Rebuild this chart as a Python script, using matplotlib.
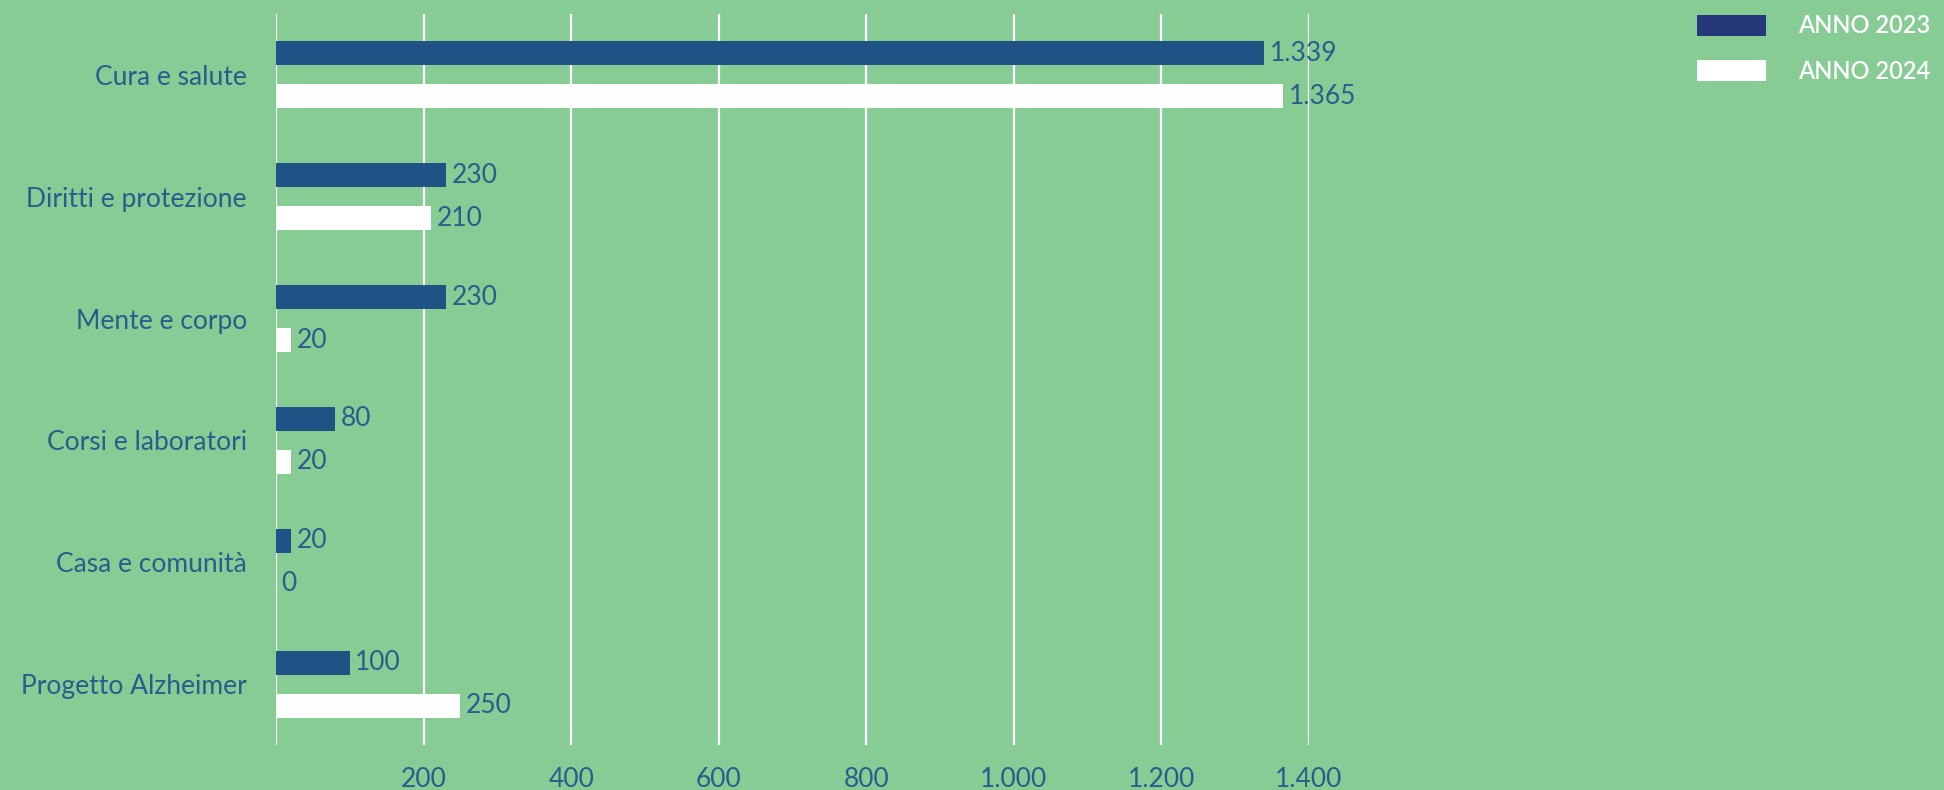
import numpy as np
import matplotlib.pyplot as plt
from matplotlib.patches import Patch

categories = ["Cura e salute", "Diritti e protezione", "Mente e corpo",
              "Corsi e laboratori", "Casa e comunità", "Progetto Alzheimer"]
values_2023 = [1339, 230, 230, 80, 20, 100]
values_2024 = [1365, 210, 20, 20, 0, 250]
series_names = ["ANNO 2023", "ANNO 2024"]
x_ticks = [0, 200, 400, 600, 800, 1000, 1200, 1400]

bg = '#87CB95'
c2023 = '#1F5285'
c2023_legend = '#25397A'
c2024 = '#FFFFFF'
txt = '#2B5C8C'

def fmt_it(v):
   return '{:,}'.format(int(v)).replace(',', '.')

plt.rcParams['font.family'] = ['Lato', 'DejaVu Sans']

fig = plt.figure(figsize=(19.44, 7.9), dpi=100, facecolor=bg)
ax = fig.add_axes([276/1944, 1 - 745/790, (1309 - 276)/1944, (745 - 14)/790])
ax.set_facecolor(bg)

y = np.arange(len(categories))
off = 0.177
h = 0.197
b1 = ax.barh(y - off, values_2023, height=h, color=c2023, zorder=3)
b2 = ax.barh(y + off, values_2024, height=h, color=c2024, zorder=3)

for bars, vals in [(b1, values_2023), (b2, values_2024)]:
   for bar, v in zip(bars, vals):
      ax.annotate(fmt_it(v), (bar.get_width(), bar.get_y() + bar.get_height() / 2),
                  xytext=(4, 0), textcoords='offset points', va='center', ha='left',
                  fontsize=19, color=txt, zorder=4, annotation_clip=False)

ax.set_ylim(len(categories) - 0.5, -0.5)
ax.set_xlim(0, 1400)
ax.set_yticks(y)
ax.set_yticklabels(categories, fontsize=19, color=txt)
ax.set_xticks(x_ticks)
ax.set_xticklabels([''] + [fmt_it(t) for t in x_ticks[1:]], fontsize=19, color=txt)
ax.tick_params(axis='both', length=0)
ax.tick_params(axis='y', pad=21)
ax.tick_params(axis='x', pad=16)
ax.grid(axis='x', color='white', linewidth=1.6, zorder=1)
for s in ax.spines.values():
   s.set_visible(False)

handles = [Patch(facecolor=c2023_legend), Patch(facecolor=c2024)]
leg = fig.legend(handles, series_names, loc='upper right', bbox_to_anchor=(1.0, 1.0),
                 frameon=False, labelcolor='white',
                 prop={'size': 17, 'weight': 'semibold'},
                 handlelength=2.9, handleheight=1.0, handletextpad=1.35,
                 labelspacing=0.95, borderaxespad=0.2)

plt.savefig('out.png', dpi=100, facecolor=bg)
